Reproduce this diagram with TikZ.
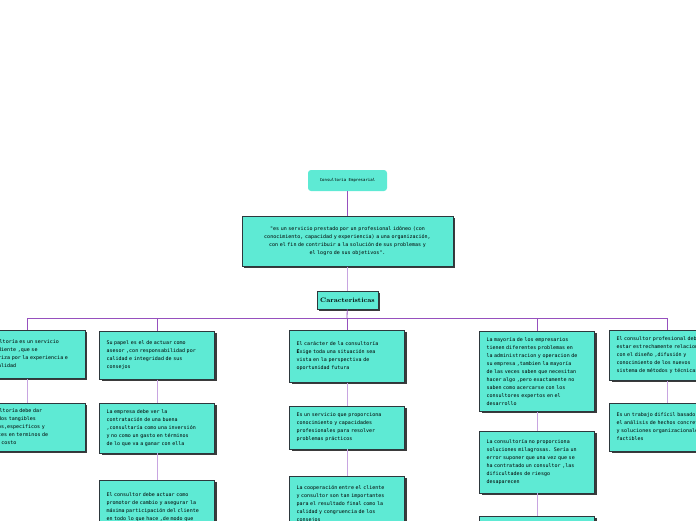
\documentclass[tikz,border=0pt]{standalone}
\usepackage{fontspec}
\usepackage{tikz}
\usetikzlibrary{positioning,shadows}
\newfontfamily\notemono{DejaVu Sans Mono}
\definecolor{mapteal}{RGB}{94,234,212}
\definecolor{mapedge}{RGB}{45,55,60}
\definecolor{mappurple}{RGB}{150,80,190}
\definecolor{maplilac}{RGB}{200,165,225}

\begin{document}
\begin{tikzpicture}[x=1pt, y=1pt,
    topic/.style={fill=mapteal, rounded corners=3pt, minimum width=79pt, minimum height=21pt, inner sep=2pt, font=\notemono\fontsize{4}{5}\selectfont},
    card/.style={draw=mapedge, line width=0.5pt, fill=mapteal, drop shadow={shadow xshift=2pt, shadow yshift=-2pt, fill=black!85, opacity=0.9}, align=left, text width=101pt, inner xsep=7pt, inner ysep=4pt, font=\notemono\fontsize{5}{8}\selectfont},
    link/.style={draw=mappurple, line width=0.8pt},
    sublink/.style={draw=maplilac, line width=0.8pt}
]
    \useasboundingbox (0,0) rectangle (696,-520);
    \clip (0,0) rectangle (696,-520);

    % Main topic
    \node[topic] (root) at (347.5,-180.5) {Consultoria Empresarial};

    % Definition card
    \node[card, below=25pt of root, text width=197pt, align=center, minimum height=50pt] (defn) {%
        "es un servicio prestado por un profesional idóneo (con\\
        conocimiento, capacidad y experiencia) a una organización,\\
        con el fin de contribuir a la solución de sus problemas y\\
        el logro de sus objetivos".};

    % Characteristics header
    \node[card, below=24pt of defn, text width={}, align=center, minimum width=60pt, minimum height=18pt, inner xsep=3pt, font=\bfseries\fontsize{6.5}{8}\selectfont] (car) {Caracteristicas};

    \coordinate (bus) at (347,-318);

    % Column 1
    \node[card, anchor=north, minimum height=48pt] (c1a) at (27.5,-330) {%
        La consultoría es un servicio\\
        independiente ,que se\\
        caracteriza por la experiencia e\\
        imparcialidad};
    \node[card, below=24pt of c1a, minimum height=48pt] (c1b) {%
        La consultoría debe dar\\
        resultados tangibles\\
        concretos,especificos y\\
        eficientes en terminos de\\
        tiempo y costo};

    % Column 2
    \node[card, anchor=north, minimum height=48pt] (c2a) at (157,-331) {%
        Su papel es el de actuar como\\
        asesor ,con responsabilidad por\\
        calidad e integridad de sus\\
        consejos};
    \node[card, below=23pt of c2a, minimum height=50pt] (c2b) {%
        La empresa debe ver la\\
        contratación de una buena\\
        ,consultaría como una inversión\\
        y no como un gasto en términos\\
        de lo que va a ganar con ella};
    \node[card, below=27pt of c2b, minimum height=62pt] (c2c) {%
        El consultor debe actuar como\\
        promotor de cambio y asegurar la\\
        máxima participación del cliente\\
        en todo lo que hace ,de modo que\\
        el éxito final se haga propio};

    % Column 3
    \node[card, anchor=north, minimum height=52pt] (c3a) at (347,-330) {%
        El carácter de la consultoría\\
        {\bfseries E}xige toda una situación sea\\
        vista en la perspectiva de\\
        oportunidad futura};
    \node[card, below=23pt of c3a, minimum height=43pt] (c3b) {%
        Es un servicio que proporciona\\
        conocimiento y capacidades\\
        profesionales para resolver\\
        problemas prácticos};
    \node[card, below=27pt of c3b, minimum height=56pt] (c3c) {%
        La cooperación entre el cliente\\
        y consultor son tan importantes\\
        para el resultado final como la\\
        calidad y congruencia de los\\
        consejos};

    % Column 4
    \node[card, anchor=north, minimum height=80pt] (c4a) at (537,-331) {%
        La mayoría de los empresarios\\
        tienen diferentes problemas en\\
        la administracion y operacion de\\
        su empresa ,tambien la mayoría\\
        de las veces saben que necesitan\\
        hacer algo ,pero exactamente no\\
        saben como acercarse con los\\
        consultores expertos en el\\
        desarrollo};
    \node[card, below=19pt of c4a, minimum height=62pt] (c4b) {%
        La consultoría no proporciona\\
        soluciones milagrosas. Sería un\\
        error suponer que una vez que se\\
        ha contratado un consultor ,las\\
        dificultades de riesgo\\
        desaparecen};
    \node[card, below=23pt of c4b, minimum height=40pt] (c4c) {};

    % Column 5
    \node[card, anchor=north, minimum height=50pt] (c5a) at (667,-330) {%
        El consultor profesional debe\\
        estar estrechamente relacionado\\
        con el diseño ,difusión y\\
        conocimiento de los nuevos\\
        sistema de métodos y técnicas};
    \node[card, below=22pt of c5a, minimum height=48pt] (c5b) {%
        Es un trabajo difícil basado en\\
        el análisis de hechos concretos\\
        y soluciones organizacionales\\
        factibles};

    % Connectors
    \draw[link] (root) -- (defn);
    \draw[sublink] (defn) -- (car);
    \draw[link] (car) -- (bus);
    \foreach \col in {c1a,c2a,c3a,c4a,c5a}
        \draw[link] (bus) -| (\col.north);
    \draw[sublink] (c1a) -- (c1b);
    \draw[sublink] (c2a) -- (c2b);
    \draw[sublink] (c2b) -- (c2c);
    \draw[sublink] (c3a) -- (c3b);
    \draw[sublink] (c3b) -- (c3c);
    \draw[sublink] (c4a) -- (c4b);
    \draw[sublink] (c4b) -- (c4c);
    \draw[sublink] (c5a) -- (c5b);
\end{tikzpicture}
\end{document}
